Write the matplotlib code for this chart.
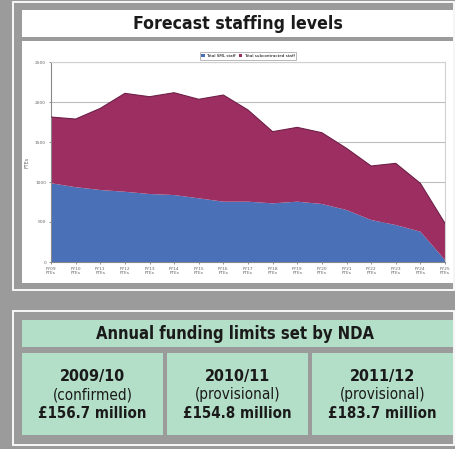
import matplotlib
matplotlib.use("Agg")
import matplotlib.pyplot as plt
from matplotlib.patches import Rectangle
import numpy as np

W, H = 455, 449

years = ["FY09", "FY10", "FY11", "FY12", "FY13", "FY14", "FY15", "FY16", "FY17",
         "FY18", "FY19", "FY20", "FY21", "FY22", "FY23", "FY24", "FY25"]
xlabels = [y + "\nFTEs" for y in years]
sml_staff = [985, 935, 900, 878, 850, 837, 796, 754, 754, 733, 754, 725, 650, 525, 462, 379, 25]
subcontracted = [827, 852, 1020, 1230, 1216, 1279, 1238, 1333, 1146, 896, 929, 891, 771, 675, 771, 604, 458]
series_names = ["Total SML staff", "Total subcontracted staff"]
yticks = [0, 500, 1000, 1500, 2000, 2500]

header = "Annual funding limits set by NDA"
fund_years = ["2009/10", "2010/11", "2011/12"]
fund_status = ["(confirmed)", "(provisional)", "(provisional)"]
fund_amounts = ["£156.7 million", "£154.8 million", "£183.7 million"]

GRAY = "#9b9b9b"
GREEN = "#b3dec8"
BLUE = "#4a70b8"
RED = "#9c2e62"
FAM = ["DejaVu Sans"]
INK = "#1a1a1a"

fig = plt.figure(figsize=(W / 100, H / 100), dpi=100)
fig.patch.set_facecolor(GRAY)


def rect(x0, y0, x1, y1, fc="none", ec="none", lw=0, z=0):
    fig.add_artist(Rectangle((x0 / W, 1 - y1 / H), (x1 - x0) / W, (y1 - y0) / H,
                             transform=fig.transFigure, facecolor=fc,
                             edgecolor=ec, linewidth=lw, zorder=z))


def ctext(x, y, s, size, weight):
    fig.text(x / W, 1 - y / H, s, ha="center", va="center", fontsize=size,
             fontweight=weight, family=FAM, fontstretch="condensed", color=INK)


# outer frames
rect(13, 2, 454, 290, ec="white", lw=1.3)
rect(13, 311, 454, 445, ec="white", lw=1.3)
# top panel boxes
rect(22, 10, 453, 37, fc="white")
rect(22, 41, 453, 283, fc="white")
ctext(238, 24, "Forecast staffing levels", 12.7, "bold")

# bottom panel
rect(22, 320, 453, 347, fc=GREEN)
ctext(235, 334, header, 11.9, "bold")
cols = [(22, 163), (167, 308), (312, 453)]
for (a, b), yr, st, am in zip(cols, fund_years, fund_status, fund_amounts):
    rect(a, 353, b, 435, fc=GREEN)
    cx = (a + b) / 2
    ctext(cx, 376, yr, 11.5, "bold")
    ctext(cx, 395, st, 11, "normal")
    ctext(cx, 414, am, 10.8, "bold")

# chart
ax = fig.add_axes([51 / W, 1 - 262 / H, 394 / W, 200 / H])
ax.set_facecolor("white")
x = np.arange(len(years))
ax.stackplot(x, sml_staff, subcontracted, colors=[BLUE, RED], labels=series_names,
             zorder=2)
top = np.array(sml_staff) + np.array(subcontracted)
ax.plot(x, top, color="#6e2048", lw=0.8, zorder=3)
ax.set_xlim(0, len(years) - 1)
ax.set_ylim(0, 2500)
ax.set_yticks(yticks)
ax.set_yticklabels([str(v) for v in yticks])
ax.set_xticks(x)
ax.set_xticklabels(xlabels)
ax.grid(axis="y", color="#bdbdbd", lw=0.8, zorder=1)
ax.tick_params(axis="both", labelsize=3.2, colors="#666666", length=1.5, width=0.5, pad=2)
for s in ["left", "bottom"]:
    ax.spines[s].set_color("#888888")
    ax.spines[s].set_linewidth(0.8)
for s in ["right", "top"]:
    ax.spines[s].set_color("#d0d0d0")
    ax.spines[s].set_linewidth(0.8)
ax.set_ylabel("FTEs", fontsize=3.5, color="#666666", labelpad=4)
leg = ax.legend(loc="center", bbox_to_anchor=(248 / W, 1 - 56 / H),
                bbox_transform=fig.transFigure, ncol=2, fontsize=3, frameon=True,
                fancybox=False, edgecolor="#999999", handlelength=0.8,
                handleheight=0.8, columnspacing=0.8, borderpad=0.4,
                handletextpad=0.3)
leg.get_frame().set_linewidth(0.6)

fig.savefig("out.png", dpi=100, facecolor=fig.get_facecolor())
